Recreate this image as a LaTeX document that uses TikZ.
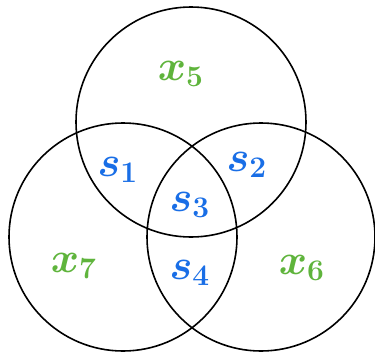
\documentclass[tikz,border=0pt]{standalone}
\usepackage{tikz}
\usepackage{amsmath}
\usepackage{graphicx}
\definecolor{setblue}{RGB}{25,110,230}
\definecolor{setgreen}{RGB}{95,180,60}
\newcommand{\biglabel}[1]{\scalebox{2.5}{$\boldsymbol{#1}$}}

\begin{document}
\begin{tikzpicture}[x=1bp, y=-1bp,
    ring/.style={line width=1.6bp},
    region/.style={text=setblue, font=\LARGE, inner sep=0pt},
    outer/.style={text=setgreen, font=\LARGE, inner sep=0pt}]
            \useasboundingbox (0, 0) rectangle (375, 352);

            \draw[ring] (191, 122) circle (115);
            \draw[ring] (123, 237) circle (114);
            \draw[ring] (261, 237) circle (114);

            \node[outer] (x5) at (181, 74) {\biglabel{x_{\scriptstyle 5}}};
            \node[outer] (x7) at (74, 266) {\biglabel{x_{\scriptstyle 7}}};
            \node[outer] (x6) at (302, 268) {\biglabel{x_{\scriptstyle 6}}};

            \node[region] (s1) at (118, 170) {\biglabel{s_{\scriptstyle 1}}};
            \node[region] (s2) at (247, 165) {\biglabel{s_{\scriptstyle 2}}};
            \node[region] (s3) at (190, 205) {\biglabel{s_{\scriptstyle 3}}};
            \node[region] (s4) at (190, 273) {\biglabel{s_{\scriptstyle 4}}};
        \end{tikzpicture}
\end{document}
